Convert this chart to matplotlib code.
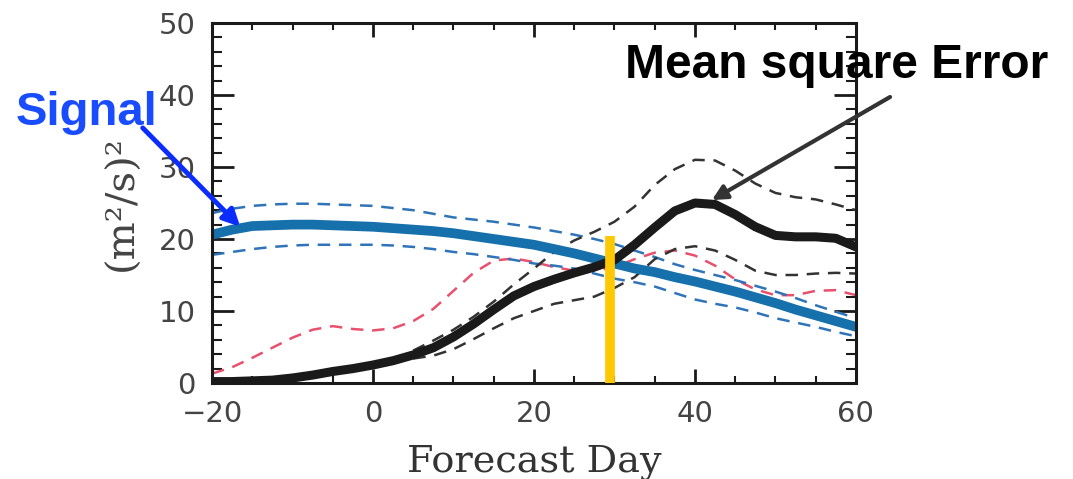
import matplotlib.pyplot as plt
from matplotlib.ticker import MultipleLocator

# forecast days (every 2.5 days)
days = [-20, -17.5, -15, -12.5, -10, -7.5, -5, -2.5, 0, 2.5, 5, 7.5, 10, 12.5,
        15, 17.5, 20, 22.5, 25, 27.5, 30, 32.5, 35, 37.5, 40, 42.5, 45, 47.5,
        50, 52.5, 55, 57.5, 60]

# signal (thick blue) and its spread (dashed blue)
signal = [20.6, 21.3, 21.8, 21.9, 22.0, 22.0, 21.9, 21.8, 21.7, 21.5, 21.3,
          21.1, 20.8, 20.4, 20.0, 19.6, 19.2, 18.6, 18.0, 17.3, 16.6, 15.9,
          15.4, 14.7, 14.1, 13.4, 12.7, 11.9, 11.1, 10.2, 9.4, 8.6, 7.8]
signal_hi = [23.6, 24.2, 24.6, 24.8, 24.9, 24.9, 24.8, 24.7, 24.6, 24.3, 24.0,
             23.5, 23.0, 22.7, 22.4, 22.0, 21.6, 21.1, 20.6, 20.0, 19.3, 18.4,
             17.5, 16.5, 15.7, 15.0, 14.3, 13.5, 12.7, 11.8, 10.8, 9.9, 9.0]
signal_lo = [17.8, 18.2, 18.6, 18.9, 19.1, 19.2, 19.2, 19.2, 19.2, 19.1, 18.9,
             18.6, 18.2, 17.9, 17.5, 17.1, 16.6, 16.3, 15.9, 15.2, 14.5, 14.0,
             13.4, 12.5, 11.6, 11.0, 10.5, 9.8, 9.0, 8.4, 7.8, 7.1, 6.5]

# mean square error (thick black)
mse = [0.2, 0.2, 0.3, 0.4, 0.7, 1.1, 1.6, 2.0, 2.5, 3.1, 3.9, 4.9, 6.4, 8.2,
       10.2, 12.1, 13.4, 14.4, 15.3, 16.1, 17.1, 19.2, 21.6, 23.9, 25.0, 24.8,
       23.4, 21.7, 20.5, 20.3, 20.3, 20.1, 18.9]

# spread of the error (dashed black), drawn from day 5
err_days = [5, 7.5, 10, 12.5, 15, 17.5, 20, 22.5, 25, 27.5, 30, 32.5, 35,
            37.5, 40, 42.5, 45, 47.5, 50, 52.5, 55, 57.5, 60]
mse_hi = [4.5, 5.9, 7.4, 9.2, 11.3, 13.7, 15.9, 18.2, 19.8, 21.0, 22.4, 24.5,
          27.5, 29.7, 31.0, 30.9, 29.5, 27.7, 26.4, 25.8, 25.5, 24.8, 24.0]
mse_lo = [3.4, 3.8, 4.7, 6.1, 7.6, 9.0, 10.0, 11.0, 11.5, 12.0, 13.2, 14.7,
          17.2, 18.6, 19.0, 18.4, 17.1, 15.6, 15.0, 15.0, 15.2, 15.3, 15.2]

# red dashed curve
red = [1.3, 2.2, 3.5, 4.9, 6.3, 7.4, 7.9, 7.5, 7.3, 7.6, 8.6, 10.3, 12.8, 15.3,
       17.0, 17.3, 16.8, 16.1, 15.6, 15.6, 16.1, 17.2, 18.1, 18.4, 17.7, 16.3,
       14.4, 13.0, 12.2, 12.2, 12.8, 12.9, 12.2]

crossover_day = 29.5
crossover_top = 20.4

fig = plt.figure(figsize=(10.73, 4.79), dpi=100)
ax = fig.add_axes([0.1976, 0.2004, 0.6001, 0.7516])

dash = (5, 3.5)
ax.plot(days, red, color='#e8506e', lw=1.8, dashes=dash)
ax.plot(days, signal_hi, color='#2f74b8', lw=1.8, dashes=dash)
ax.plot(days, signal_lo, color='#2f74b8', lw=1.8, dashes=dash)
ax.plot(err_days, mse_hi, color='#333333', lw=1.8, dashes=dash)
ax.plot(err_days, mse_lo, color='#333333', lw=1.8, dashes=dash)
ax.plot(days, signal, color='#1570ab', lw=7, solid_capstyle='round')
ax.plot(days, mse, color='#1a1a1a', lw=6.5, solid_capstyle='round')
ax.vlines(crossover_day, 0, crossover_top, color='#ffc800', lw=7, zorder=5)

ax.set_xlim(-20, 60)
ax.set_ylim(0, 50)
ax.xaxis.set_major_locator(MultipleLocator(20))
ax.xaxis.set_minor_locator(MultipleLocator(5))
ax.yaxis.set_major_locator(MultipleLocator(10))
ax.yaxis.set_minor_locator(MultipleLocator(2))
ax.tick_params(which='both', direction='in', top=True, right=True,
               colors='#1a1a1a', labelcolor='#444444', labelsize=21)
ax.tick_params(axis='x', which='major', length=10, width=2, pad=12)
ax.tick_params(axis='x', which='minor', length=5, width=1.5)
ax.tick_params(axis='y', which='major', length=16, width=2, pad=12)
ax.tick_params(axis='y', which='minor', length=7, width=1.5)
for sp in ax.spines.values():
    sp.set_linewidth(2.2)
    sp.set_color('#1a1a1a')

ax.set_xlabel('Forecast Day', family='DejaVu Serif', fontsize=27.5,
              color='#333333', labelpad=12)
ax.set_ylabel('(m²/s)²', family='DejaVu Serif', fontsize=29,
              color='#444444', labelpad=13)

# annotations
fig.text(0.081, 0.764, 'Signal', family='Liberation Sans', weight='bold',
         fontsize=34, color='#1a4cff', ha='center', va='center')
ax.annotate('', xy=(-16.5, 21.7), xycoords='data',
            xytext=(0.133, 0.733), textcoords='figure fraction',
            arrowprops=dict(arrowstyle='-|>', color='#0a2cff', lw=3.5,
                            mutation_scale=25, shrinkA=0, shrinkB=0),
            annotation_clip=False)

fig.text(0.780, 0.864, 'Mean square Error', family='Liberation Sans',
         weight='bold', fontsize=34.5, color='black', ha='center', va='center')
ax.annotate('', xy=(42.1, 25.4), xycoords='data',
            xytext=(0.8295, 0.7975), textcoords='figure fraction',
            arrowprops=dict(arrowstyle='-|>', color='#333333', lw=3,
                            mutation_scale=22, shrinkA=0, shrinkB=0),
            annotation_clip=False)

fig.savefig('out.png', dpi=100)
